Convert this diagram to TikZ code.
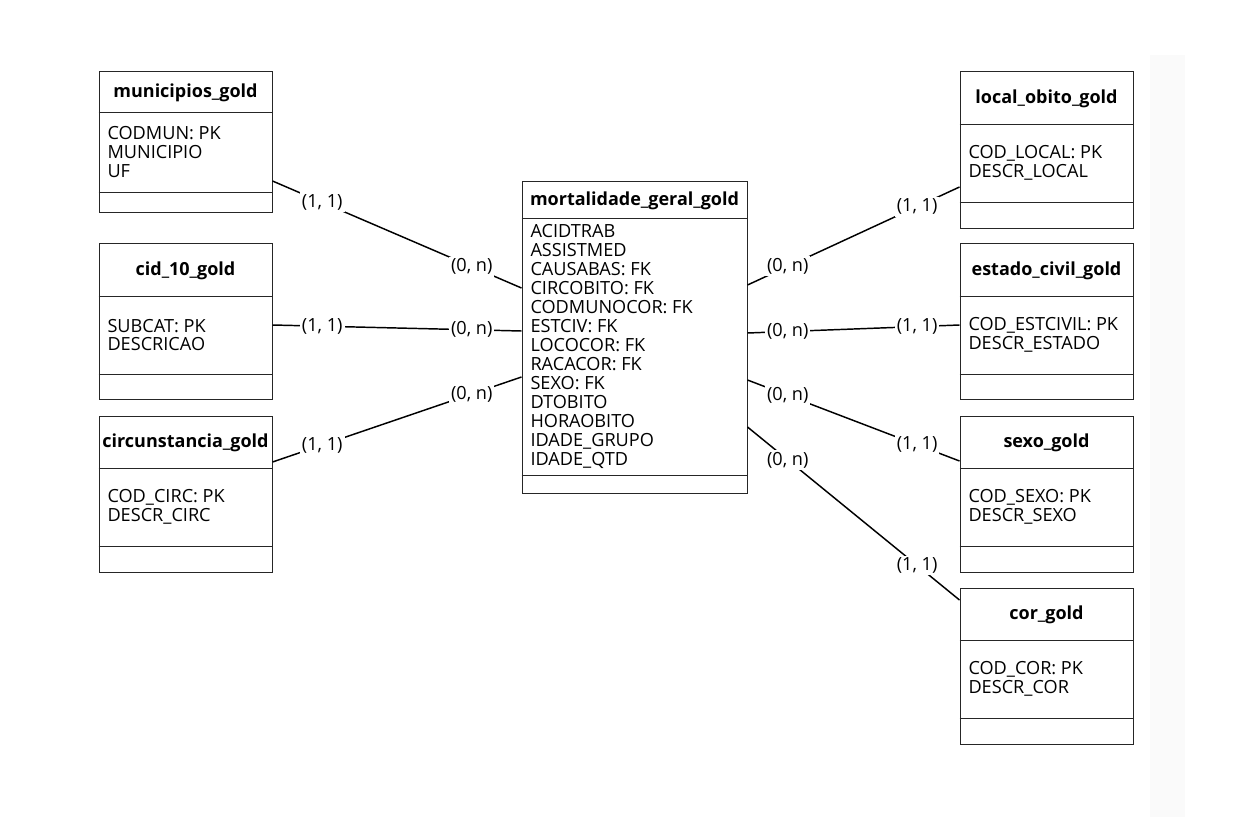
\documentclass[tikz,border=0pt]{standalone}
\usepackage{fontspec}
\setmainfont{Open Sans}
\newdimen\unitpx \unitpx=0.75pt

\begin{document}
\begin{tikzpicture}[x=0.75pt, y=-0.75pt, line width=0.75pt]
                \tikzstyle{entity}=[rectangle, draw=black!85, minimum width=173\unitpx, inner sep=0pt]
                \tikzstyle{tabtitle}=[font=\fontsize{13.5}{14.2}\selectfont\bfseries, inner sep=0pt]
                \tikzstyle{attrs}=[font=\fontsize{13.6}{14.2}\selectfont, align=left, anchor=west, inner sep=0pt]
                \tikzstyle{sep}=[draw=black!85]
                \tikzstyle{rel}=[line width=1.1pt]
                \tikzstyle{card}=[font=\fontsize{13.6}{14.2}\selectfont, fill=white, inner sep=1.5pt]

                \useasboundingbox (0,0) rectangle (1241,817);
                \fill[black!2] (1150,55) rectangle (1185,817);

                % left side
                \node[entity, minimum height=140\unitpx] (muni) at (185.5,142) {};
                \node[tabtitle] (muni-t) at (185.5,93) {municipios\_gold};
                \node[attrs] (muni-a) at (107,152) {CODMUN: PK\\MUNICIPIO\\UF};
                \draw[sep] (muni.west |- 0,112) -- (muni.east |- 0,112);
                \draw[sep] (muni.west |- 0,192) -- (muni.east |- 0,192);

                \node[entity, minimum height=156\unitpx] (cid) at (185.5,321) {};
                \node[tabtitle] (cid-t) at (185.5,270.5) {cid\_10\_gold};
                \node[attrs] (cid-a) at (107,335) {SUBCAT: PK\\DESCRICAO};
                \draw[sep] (cid.west |- 0,296) -- (cid.east |- 0,296);
                \draw[sep] (cid.west |- 0,374) -- (cid.east |- 0,374);

                \node[entity, minimum height=156\unitpx] (circ) at (185.5,494) {};
                \node[tabtitle] (circ-t) at (185.5,443) {circunstancia\_gold};
                \node[attrs] (circ-a) at (107,507) {COD\_CIRC: PK\\DESCR\_CIRC};
                \draw[sep] (circ.west |- 0,468) -- (circ.east |- 0,468);
                \draw[sep] (circ.west |- 0,546) -- (circ.east |- 0,546);

                % centre
                \node[entity, minimum width=225\unitpx, minimum height=312\unitpx] (mort) at (634.5,337) {};
                \node[tabtitle] (mort-t) at (634.5,200.5) {mortalidade\_geral\_gold};
                \node[attrs] (mort-a) at (530,346.5) {ACIDTRAB\\ASSISTMED\\CAUSABAS: FK\\CIRCOBITO: FK\\CODMUNOCOR: FK\\ESTCIV: FK\\LOCOCOR: FK\\RACACOR: FK\\SEXO: FK\\DTOBITO\\HORAOBITO\\IDADE\_GRUPO\\IDADE\_QTD};
                \draw[sep] (mort.west |- 0,218) -- (mort.east |- 0,218);
                \draw[sep] (mort.west |- 0,475) -- (mort.east |- 0,475);

                % right side
                \node[entity, minimum height=156\unitpx] (local) at (1046.5,150) {};
                \node[tabtitle] (local-t) at (1046.5,99) {local\_obito\_gold};
                \node[attrs] (local-a) at (968,163) {COD\_LOCAL: PK\\DESCR\_LOCAL};
                \draw[sep] (local.west |- 0,124) -- (local.east |- 0,124);
                \draw[sep] (local.west |- 0,202) -- (local.east |- 0,202);

                \node[entity, minimum height=156\unitpx] (estado) at (1046.5,321) {};
                \node[tabtitle] (estado-t) at (1046.5,270.5) {estado\_civil\_gold};
                \node[attrs] (estado-a) at (968,335) {COD\_ESTCIVIL: PK\\DESCR\_ESTADO};
                \draw[sep] (estado.west |- 0,296) -- (estado.east |- 0,296);
                \draw[sep] (estado.west |- 0,374) -- (estado.east |- 0,374);

                \node[entity, minimum height=156\unitpx] (sexo) at (1046.5,494) {};
                \node[tabtitle] (sexo-t) at (1046.5,443) {sexo\_gold};
                \node[attrs] (sexo-a) at (968,507) {COD\_SEXO: PK\\DESCR\_SEXO};
                \draw[sep] (sexo.west |- 0,468) -- (sexo.east |- 0,468);
                \draw[sep] (sexo.west |- 0,546) -- (sexo.east |- 0,546);

                \node[entity, minimum height=156\unitpx] (cor) at (1046.5,666) {};
                \node[tabtitle] (cor-t) at (1046.5,615) {cor\_gold};
                \node[attrs] (cor-a) at (968,679) {COD\_COR: PK\\DESCR\_COR};
                \draw[sep] (cor.west |- 0,640) -- (cor.east |- 0,640);
                \draw[sep] (cor.west |- 0,718) -- (cor.east |- 0,718);

                % relationships
                \path (muni.east |- 0,181) edge[rel] node[card, pos=0.2] {(1, 1)} node[card, pos=0.8] {(0, n)} (mort.west |- 0,288);
                \path (cid.east |- 0,325) edge[rel] node[card, pos=0.2] {(1, 1)} node[card, pos=0.8] {(0, n)} (mort.west |- 0,331);
                \path (circ.east |- 0,462) edge[rel] node[card, pos=0.2] {(1, 1)} node[card, pos=0.8] {(0, n)} (mort.west |- 0,377);
                \path (mort.east |- 0,285) edge[rel] node[card, pos=0.19] {(0, n)} node[card, pos=0.8] {(1, 1)} (local.west |- 0,187);
                \path (mort.east |- 0,333) edge[rel] node[card, pos=0.19] {(0, n)} node[card, pos=0.8] {(1, 1)} (estado.west |- 0,325);
                \path (mort.east |- 0,380) edge[rel] node[card, pos=0.19] {(0, n)} node[card, pos=0.8] {(1, 1)} (sexo.west |- 0,461);
                \path (mort.east |- 0,427) edge[rel] node[card, pos=0.19] {(0, n)} node[card, pos=0.8] {(1, 1)} (cor.west |- 0,600);
            \end{tikzpicture}
\end{document}
